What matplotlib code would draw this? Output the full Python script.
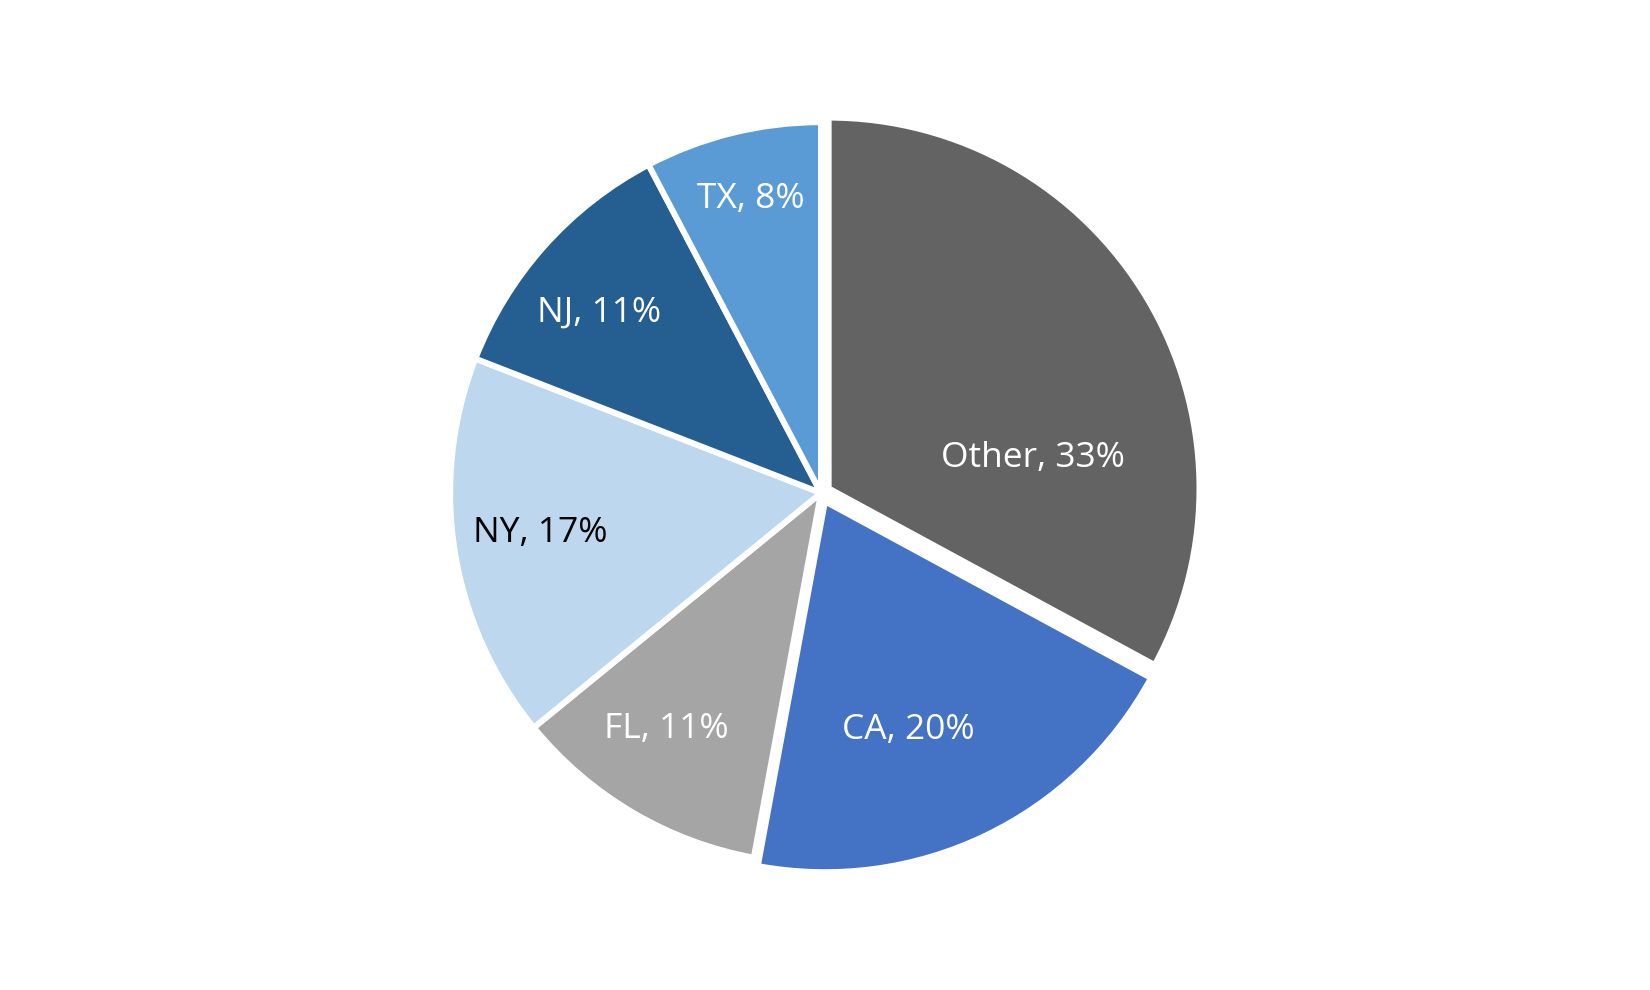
import matplotlib
matplotlib.use('Agg')
import matplotlib.pyplot as plt

plt.rcParams['font.family'] = ['Open Sans', 'DejaVu Sans']

# 데이터
states = ['Other', 'CA', 'FL', 'NY', 'NJ', 'TX']
shares = [32.9, 20.0, 11.2, 16.8, 11.4, 7.7]
colors = ['#636363', '#4472C4', '#A5A5A5', '#BDD7EE', '#255E91', '#5B9BD5']
text_colors = ['white', 'white', 'white', 'black', 'white', 'white']
explode = [0.024, 0.025, 0, 0, 0, 0]
# 라벨 위치 (파이 반지름 기준)
label_pos = [(0.571, 0.094), (0.236, -0.639), (-0.418, -0.636),
             (-0.756, -0.108), (-0.599, 0.486), (-0.188, 0.793)]

fig = plt.figure(figsize=(16.5, 9.9), dpi=100)
ax = fig.add_axes([(821 - 445) / 1650, (990 - 493 - 445) / 990, 890 / 1650, 890 / 990])

wedges, texts = ax.pie(shares, colors=colors, startangle=90, counterclock=False,
                       explode=explode, radius=1.0,
                       wedgeprops=dict(edgecolor='white', linewidth=4.3))

for name, val, (x, y), tc in zip(states, shares, label_pos, text_colors):
    ax.text(x, y, f'{name}, {round(val):.0f}%', ha='center', va='center',
            fontsize=25.5, color=tc)

ax.set_xlim(-1.2, 1.2)
ax.set_ylim(-1.2, 1.2)
ax.set_aspect('equal')
ax.axis('off')

fig.savefig('out.png', dpi=100)
